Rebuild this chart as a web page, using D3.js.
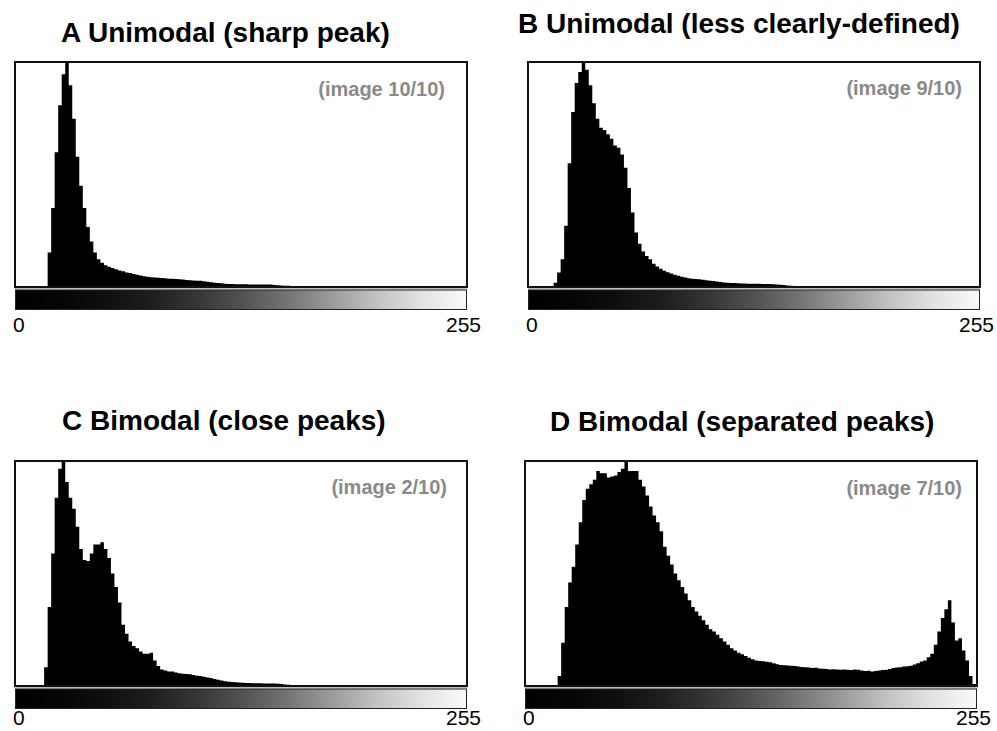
<!DOCTYPE html>
<html><head><meta charset="utf-8">
<script src="https://cdn.jsdelivr.net/npm/d3@7"></script>
<style>
body{margin:0;background:#fff}
svg{display:block}
text{font-family:"Liberation Sans",Arial,Helvetica,sans-serif}
</style>
</head><body>
<svg id="c" width="997" height="731"></svg>
<script>
// ---- data ----
const titles = ["A Unimodal (sharp peak)", "B Unimodal (less clearly-defined)", "C Bimodal (close peaks)", "D Bimodal (separated peaks)"];
const imageLabels = ["(image 10/10)", "(image 9/10)", "(image 2/10)", "(image 7/10)"];
const tickLabels = ["0", "255"];
const greyDomain = [0, 256];
// relative pixel counts (% of max), one value per pair of grey levels (0-1, 2-3, ... 254-255)
const histA = [
 0,0,0,0,0,0,0,0,0,15,35,60,81,95,100,90,
 75,58,45,35,26.5,20,15,12,10.4,9.3,8.6,8.1,7.5,7.0,6.6,6.1,
 5.8,5.4,5.1,4.7,4.4,4.1,3.9,3.8,3.7,3.6,3.5,3.3,3.3,3.1,3.0,2.9,
 2.7,2.6,2.5,2.4,2.3,2.1,1.9,1.7,1.5,1.3,1.2,1.0,0.9,0.9,0.8,0.8,
 0.8,0.8,0.7,0.7,0.7,0.7,0.7,0.7,0.7,0.5,0.3,0.2,0.1,0.1,0.05,0,
 0,0,0,0,0,0,0,0,0,0,0,0,0,0,0,0,
 0,0,0,0,0,0,0,0,0,0,0,0,0,0,0,0,
 0,0,0,0,0,0,0,0,0,0,0,0,0,0,0,0];
const histB = [
 0,0,0,0,0,0,0,1.5,6,12,27,55,78,91,96,100,
 97,90,82,75,71,70,68,66,63,62,59,53,44,33,24,19,
 15.5,13.5,12,10,8.7,7.7,6.8,6.2,5.6,5.1,4.6,4.2,3.8,3.5,3.3,3.1,
 3.0,2.8,2.6,2.4,2.2,2.0,1.8,1.6,1.5,1.4,1.3,1.2,1.1,1.1,1.0,1.0,
 1.0,1.0,0.9,0.9,0.9,0.8,0.7,0.6,0.4,0.2,0.1,0,0,0,0,0,
 0,0,0,0,0,0,0,0,0,0,0,0,0,0,0,0,
 0,0,0,0,0,0,0,0,0,0,0,0,0,0,0,0,
 0,0,0,0,0,0,0,0,0,0,0,0,0,0,0,0];
const histC = [
 0,0,0,0,0,0,0,0,8,35,59,84,97,100,91,84,
 79,71,61,56,55.6,59,63,63,64,61,57,50,44,37,27,23,
 19.5,17.5,16.5,15,14,14,14.5,11,8.5,7,6.5,6,6,5.6,5.3,5.1,
 4.9,4.8,4.5,4.2,4.0,3.7,3.4,3.1,2.7,2.3,2.0,1.7,1.5,1.3,1.2,1.1,
 1.0,0.9,0.9,0.8,0.8,0.8,0.7,0.7,0.7,0.7,0.6,0.4,0.2,0.1,0,0,
 0,0,0,0,0,0,0,0,0,0,0,0,0,0,0,0,
 0,0,0,0,0,0,0,0,0,0,0,0,0,0,0,0,
 0,0,0,0,0,0,0,0,0,0,0,0,0,0,0,0];
const histD = [
 0,0,0,0,0,0,0,0,0,4,19,35,46,53,63,73,
 83,88,90,92,96,95,95,93,93.5,94,95.5,97,100,96,96,96,
 92,89,85,80,76,73,69,62,58,54,50,47,44,41,38,35,
 33,31,29,27,25,24,22.5,21,19.5,18,16.5,15.5,14.5,13.8,13,12.2,
 11.5,11,10.8,10.6,10.4,10.2,9.8,9.3,9.0,8.9,8.8,8.6,8.5,8.3,8.1,8.0,
 7.8,7.6,7.7,7.4,7.3,7.2,7.0,7.1,6.9,6.8,6.9,6.8,6.7,6.9,6.8,6.5,
 6.3,6.4,6.0,6.3,6.5,6.7,6.8,7.2,7.6,7.8,8.0,8.3,8.4,8.6,9.2,9.8,
 10.5,11.0,12.5,14,18,24,30,34,38,28,20,21,15.5,11,4,0.5];
const histograms = [histA, histB, histC, histD];

// ---- layout ----
const panels = [
  {x0:15,  x1:467, y0:62,  y1:287, tx:61,  ty:42,  lx:445, ly:96,  by:332},
  {x0:528, x1:980, y0:62,  y1:287, tx:518, ty:33,  lx:962, ly:95,  by:332},
  {x0:15,  x1:467, y0:461, y1:686, tx:62,  ty:430, lx:447, ly:494, by:725},
  {x0:525, x1:977, y0:461, y1:686, tx:550, ty:431, lx:962, ly:495, by:725}
];

const svg = d3.select("#c");
const defs = svg.append("defs");
const grad = defs.append("linearGradient").attr("id","grey").attr("x1","0%").attr("x2","100%").attr("y1","0%").attr("y2","0%");
[[0,"#000"],[0.1,"#050505"],[0.2,"#0f0f0f"],[0.3,"#1e1e1e"],[0.4,"#353535"],[0.5,"#515151"],
 [0.6,"#737373"],[0.7,"#9a9a9a"],[0.8,"#c2c2c2"],[0.9,"#e2e2e2"],[1,"#fafafa"]]
 .forEach(([o,c]) => grad.append("stop").attr("offset", o).attr("stop-color", c));

panels.forEach((p, i) => {
  const g = svg.append("g");
  const xs = d3.scaleLinear().domain(greyDomain).range([p.x0 + 1, p.x1 - 1]);
  const ys = d3.scaleLinear().domain([0, 100]).range([p.y1 - 1, p.y0 + 1]);

  // title
  g.append("text").attr("x", p.tx).attr("y", p.ty)
    .attr("font-size", 28).attr("font-weight", "bold").attr("fill", "#000")
    .text(titles[i]);

  // histogram box
  g.append("rect").attr("x", p.x0).attr("y", p.y0).attr("width", p.x1 - p.x0).attr("height", p.y1 - p.y0)
    .attr("fill", "#fff");

  const data = histograms[i].map((v, k) => ({g: 2 * k, v}));
  data.push({g: 256, v: histograms[i][histograms[i].length - 1]});
  const area = d3.area().x(d => xs(d.g)).y0(ys(0)).y1(d => ys(d.v)).curve(d3.curveStepAfter);
  g.append("path").attr("d", area(data)).attr("fill", "#000");

  g.append("rect").attr("x", p.x0).attr("y", p.y0).attr("width", p.x1 - p.x0).attr("height", p.y1 - p.y0)
    .attr("fill", "none").attr("stroke", "#111").attr("stroke-width", 2);

  // image label
  g.append("text").attr("x", p.lx).attr("y", p.ly).attr("text-anchor", "end")
    .attr("font-size", 20).attr("font-weight", "bold").attr("fill", "#8a8a8a")
    .text(imageLabels[i]);

  // grey separator + gradient bar
  g.append("rect").attr("x", p.x0).attr("y", p.y1 + 1).attr("width", p.x1 - p.x0).attr("height", 1.6)
    .attr("fill", "#bdbdbd");
  g.append("rect").attr("x", p.x0 + 0.5).attr("y", p.y1 + 3).attr("width", p.x1 - p.x0 - 1).attr("height", 19.5)
    .attr("fill", "url(#grey)").attr("stroke", "#222").attr("stroke-width", 1);

  // axis end labels
  g.append("text").attr("x", xs(greyDomain[0]) - 3).attr("y", p.by)
    .attr("font-size", 21).attr("fill", "#000").text(tickLabels[0]);
  g.append("text").attr("x", xs(greyDomain[1]) + 15).attr("y", p.by).attr("text-anchor", "end")
    .attr("font-size", 21).attr("fill", "#000").text(tickLabels[1]);
});
</script>
</body></html>
